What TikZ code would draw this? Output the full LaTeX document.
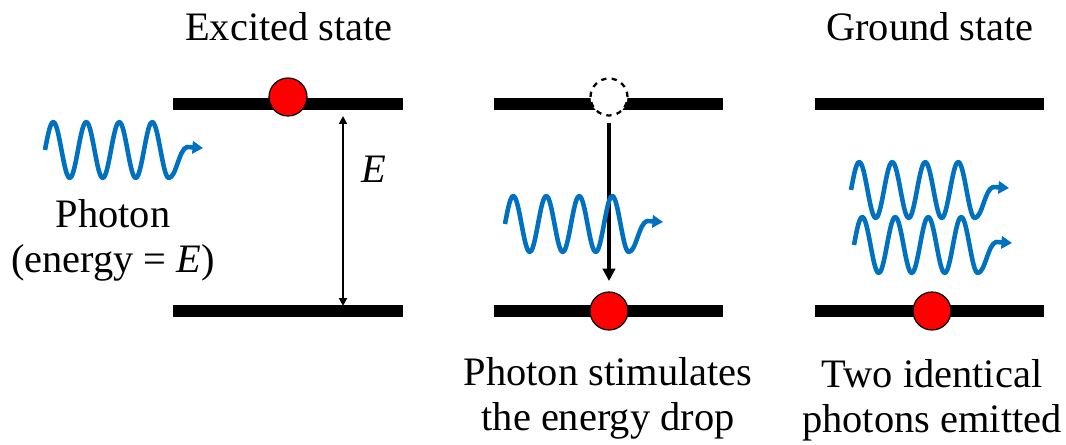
\documentclass[tikz,border=0pt]{standalone}
\usepackage{fontspec}
\setmainfont{Liberation Serif}
\usetikzlibrary{arrows.meta}
\definecolor{wblue}{HTML}{0070C0}
\begin{document}
\begin{tikzpicture}[x=0.02cm,y=-0.02cm,
  bar/.style={line width=6.8pt},
  electron/.style={circle,draw=black,line width=0.7pt,fill=red,minimum size=0.76cm,inner sep=0pt},
  hole/.style={circle,draw=black,dashed,line width=1.3pt,fill=white,minimum size=0.74cm,inner sep=0pt},
  wave/.style={draw=wblue,line width=2.6pt,line join=round,-{Triangle[length=6pt,width=7pt]}},
  lbl/.style={font=\fontsize{23}{25.5}\selectfont,inner sep=0pt,align=center},
  gap/.style={line width=1.1pt,{Triangle[length=4.5pt,width=4.5pt]}-{Triangle[length=4.5pt,width=4.5pt]}},
  drop/.style={line width=2.3pt,-{Triangle[length=7pt,width=7pt]}},
  photon/.pic={
    \draw[wave] plot[domain=0:3.75,samples=90,smooth] ({\x*33},{-28*sin(\x*360)})
      .. controls (131,28) and (134,-1) .. (142,-3) -- (158,-2);
  }]
\useasboundingbox (0,0) rectangle (1066,444);

% energy levels
\draw[bar] (173,104) -- (403,104);
\draw[bar] (173,311) -- (403,311);
\draw[bar] (494,104) -- (723,104);
\draw[bar] (494,311) -- (723,311);
\draw[bar] (815,104) -- (1044,104);
\draw[bar] (815,311) -- (1044,311);

% electrons
\node[electron] (e1) at (288,97) {};
\node[hole] (h2) at (609,97) {};
\node[electron] (e2) at (609,311) {};
\node[electron] (e3) at (932,311) {};

% energy gap arrow
\coordinate (gtop) at (343,116);
\coordinate (gbot) at (343,306);
\draw[gap] (gtop) -- (gbot);
\node[lbl,anchor=base] (E) at (374,182) {\textit{E}};

% drop arrow
\coordinate (dtip) at (609,281);
\draw[drop,shorten <=3.5pt] (h2.south) -- (dtip);

% photons
\pic at (45,150) {photon};
\pic at (505,224) {photon};
\pic at (851,190) {photon};
\pic at (854,245) {photon};

% labels (base = baseline of last line)
\node[lbl,anchor=base] (t1) at (289,40) {Excited state};
\node[lbl,anchor=base] (t3) at (930,40) {Ground state};
\node[lbl,anchor=base] (p1) at (113,272) {Photon\\(energy = \textit{E})};
\node[lbl,anchor=base] (p2) at (608,430) {Photon stimulates\\the energy drop};
\node[lbl,anchor=base] (p3) at (932,432) {Two identical\\photons emitted};
\end{tikzpicture}
\end{document}
